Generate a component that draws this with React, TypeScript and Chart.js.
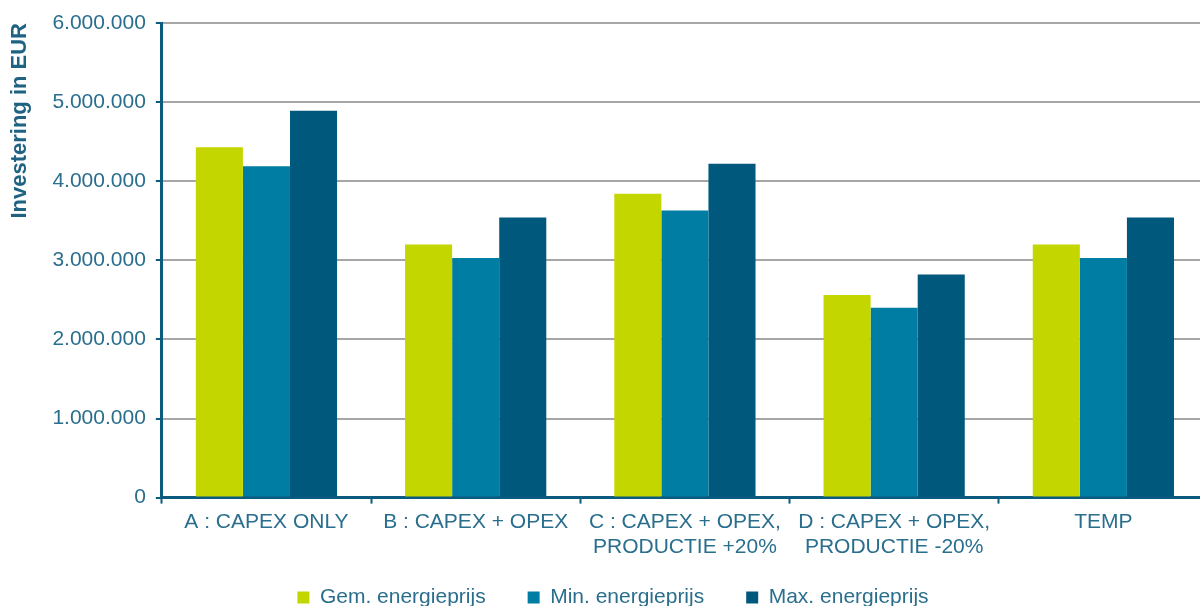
import React, { useEffect, useRef } from "react";
import { Chart, registerables } from "chart.js";

Chart.register(...registerables);

const categories: string[][] = [
  ["A : CAPEX ONLY"],
  ["B : CAPEX + OPEX"],
  ["C : CAPEX + OPEX,", "PRODUCTIE +20%"],
  ["D : CAPEX + OPEX,", "PRODUCTIE -20%"],
  ["TEMP"],
];
const seriesNames = ["Gem. energieprijs", "Min. energieprijs", "Max. energieprijs"];
const gemValues = [4430000, 3200000, 3840000, 2560000, 3200000];
const minValues = [4190000, 3030000, 3630000, 2400000, 3030000];
const maxValues = [4890000, 3540000, 4220000, 2820000, 3540000];
const seriesColors = ["#C4D600", "#007DA3", "#00587C"];
const yMax = 6000000;
const yStep = 1000000;
const yTitle = "Investering in EUR";

const FONT = "'Liberation Sans', Arial, sans-serif";
const TEXT = "#2A6E8E";
const AXIS = "#0B5B80";

function fmt(v: number): string {
  return String(Math.round(v)).replace(/\B(?=(\d{3})+(?!\d))/g, ".");
}

// moves the bottom legend up/right after layout so it sits where the reference has it
const legendShift = {
  id: "legendShift",
  afterLayout(chart: any) {
    const l = chart.legend;
    if (l) {
      l.top -= 21;
      l.bottom -= 21;
      l.left += 9;
      l.right += 9;
    }
  },
};

export default function App() {
  const ref = useRef<HTMLCanvasElement | null>(null);
  useEffect(() => {
    if (!ref.current) return;
    const chart = new Chart(ref.current, {
      type: "bar",
      data: {
        labels: categories,
        datasets: [gemValues, minValues, maxValues].map((d, i) => ({
          label: seriesNames[i],
          data: d,
          backgroundColor: seriesColors[i],
          borderWidth: 0,
          categoryPercentage: 0.675,
          barPercentage: 1,
        })),
      },
      plugins: [legendShift],
      options: {
        animation: false,
        responsive: false,
        devicePixelRatio: 1,
        layout: { padding: { left: 0, right: 0, top: 23, bottom: 0 } },
        plugins: {
          tooltip: { enabled: false },
          legend: {
            position: "bottom",
            labels: {
              boxWidth: 12,
              boxHeight: 12,
              padding: 42,
              color: TEXT,
              font: { family: FONT, size: 21 },
            },
          },
        },
        scales: {
          x: {
            grid: {
              offset: true,
              drawOnChartArea: false,
              drawTicks: true,
              tickLength: 6,
              tickColor: AXIS,
              tickWidth: 2,
            },
            border: { color: AXIS, width: 3 },
            ticks: {
              color: TEXT,
              font: { family: FONT, size: 21 },
              padding: 6,
              maxRotation: 0,
              autoSkip: false,
            },
          },
          y: {
            min: 0,
            max: yMax,
            grid: {
              color: "#A6A6A6",
              lineWidth: 2,
              tickLength: 6,
              tickColor: AXIS,
              tickWidth: 2,
            },
            border: { color: AXIS, width: 3 },
            ticks: {
              stepSize: yStep,
              color: TEXT,
              padding: 10,
              font: { family: FONT, size: 21 },
              callback: (v: any) => fmt(Number(v)),
            },
            title: {
              display: true,
              text: yTitle,
              align: "end",
              color: "#1F6282",
              font: { family: FONT, size: 22, weight: "bold" },
              padding: { top: 7, bottom: 9 },
            },
          },
        },
      },
    });
    return () => chart.destroy();
  }, []);
  return (
    <div
      style={{
        position: "fixed",
        left: 0,
        top: 0,
        width: 1200,
        height: 606,
        overflow: "hidden",
        background: "#fff",
      }}
    >
      <canvas ref={ref} width={1208} height={639} style={{ display: "block" }} />
    </div>
  );
}
